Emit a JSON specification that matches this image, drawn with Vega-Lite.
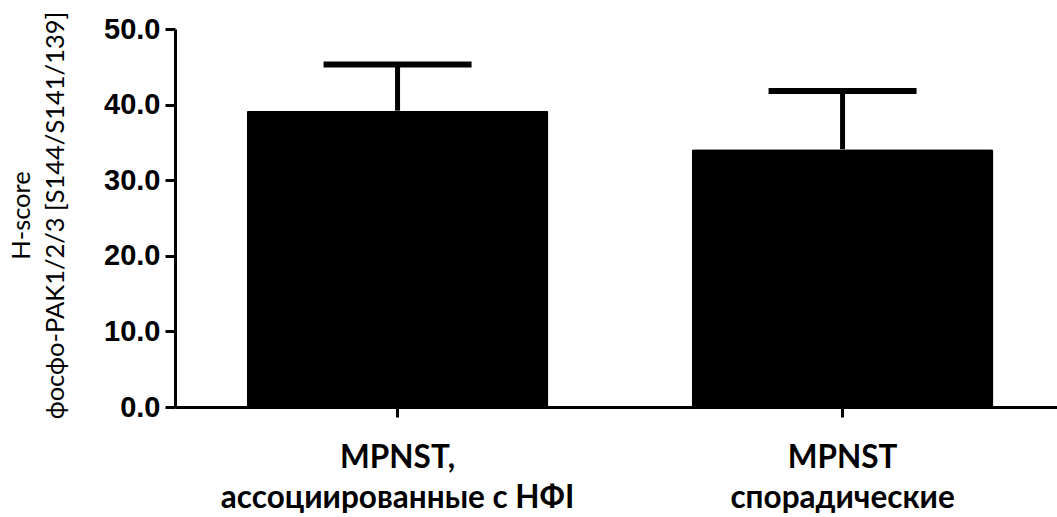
{
  "$schema": "https://vega.github.io/schema/vega-lite/v6.json",
  "autosize": {"type": "none"},
  "padding": {"left": 175, "top": 29, "right": 0, "bottom": 110},
  "width": 882,
  "height": 378,
  "background": "white",
  "config": {"view": {"stroke": null}},
  "data": {
    "values": [
      {"group": "MPNST,|ассоциированные с НФI", "value": 39.2, "upper": 45.3},
      {"group": "MPNST|спорадические", "value": 34.1, "upper": 41.8}
    ]
  },
  "encoding": {
    "x": {
      "field": "group",
      "type": "nominal",
      "sort": null,
      "scale": {"paddingInner": 0.322, "paddingOuter": 0.152, "align": 0.53},
      "axis": {
        "title": null,
        "labelAngle": 0,
        "labelExpr": "split(datum.label, '|')",
        "labelLimit": 0,
        "labelFont": "Lato",
        "labelFontWeight": "bold",
        "labelFontSize": 31.5,
        "labelLineHeight": 40,
        "labelColor": "black",
        "labelPadding": 25,
        "domainColor": "black",
        "domainWidth": 3,
        "tickColor": "black",
        "tickWidth": 3,
        "tickSize": 10
      }
    }
  },
  "layer": [
    {
      "mark": {"type": "bar", "color": "black", "cornerRadius": 2},
      "encoding": {
        "y": {
          "field": "value",
          "type": "quantitative",
          "scale": {"domain": [0, 50], "nice": false},
          "axis": {
            "values": [0, 10, 20, 30, 40, 50],
            "format": ".1f",
            "grid": false,
            "title": ["H-score", "фосфо-PAK1/2/3 [S144/S141/139]"],
            "titleFont": "Lato",
            "titleFontWeight": "normal",
            "titleFontSize": 25.5,
            "titleLineHeight": 34,
            "titleColor": "black",
            "titleBaseline": "alphabetic",
            "titleAngle": -90,
            "titleAlign": "center",
            "titleX": -146,
            "titleY": 186,
            "labelFont": "Liberation Sans",
            "labelFontWeight": "bold",
            "labelFontSize": 29,
            "labelColor": "black",
            "labelPadding": 5,
            "domainColor": "black",
            "domainWidth": 3,
            "tickColor": "black",
            "tickWidth": 3,
            "tickSize": 10
          }
        }
      }
    },
    {
      "mark": {"type": "rule", "color": "black", "strokeWidth": 5},
      "encoding": {
        "y": {"field": "value", "type": "quantitative"},
        "y2": {"field": "upper"}
      }
    },
    {
      "mark": {"type": "tick", "color": "black", "opacity": 1, "size": 148, "thickness": 6},
      "encoding": {
        "y": {"field": "upper", "type": "quantitative"}
      }
    }
  ]
}
